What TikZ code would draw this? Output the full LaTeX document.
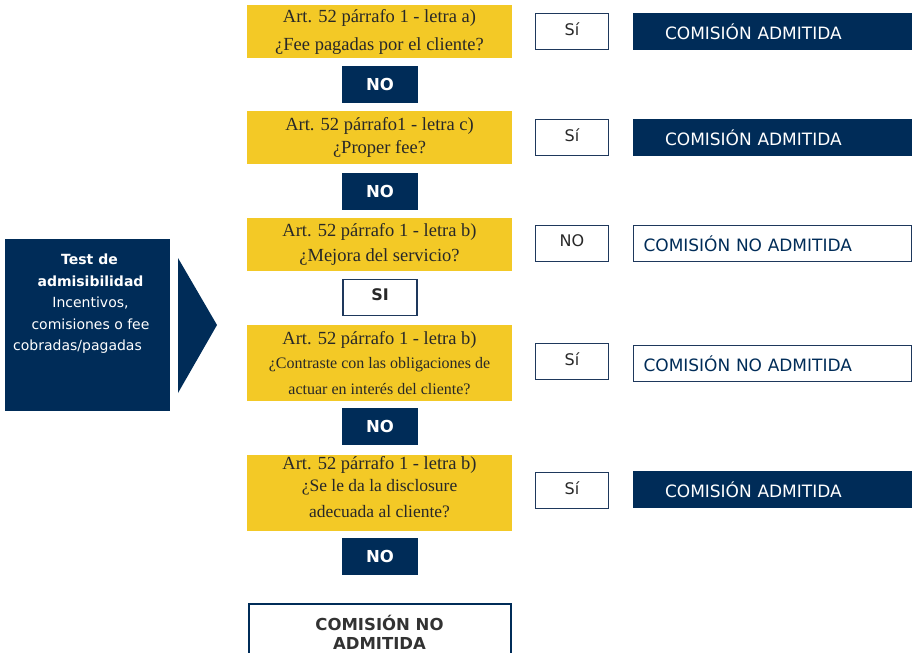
\documentclass[tikz,border=0pt]{standalone}
\usepackage{fontspec}
\setmainfont{Liberation Serif}
\setsansfont{DejaVu Sans}
\usetikzlibrary{positioning}
\definecolor{cnnavy}{RGB}{0,44,88}
\definecolor{cnline}{RGB}{30,56,92}
\definecolor{cnyellow}{RGB}{243,201,38}
\definecolor{cngray}{RGB}{40,40,40}
\definecolor{cndark}{RGB}{50,50,50}

\begin{document}
\begin{tikzpicture}[x=1pt,y=-1pt,
  question/.style={fill=cnyellow,minimum width=265pt,inner sep=0pt,align=center,
    text=cngray,font=\fontsize{18.5}{22}\selectfont},
  nobox/.style={fill=cnnavy,minimum width=76pt,minimum height=37pt,inner sep=0pt,
    text=white,font=\sffamily\bfseries\fontsize{16.5}{18}\selectfont},
  answer/.style={draw=cnline,line width=1.3pt,fill=white,minimum width=73pt,
    minimum height=36pt,inner sep=0pt,text depth=5pt,text=cngray,
    font=\sffamily\fontsize{16}{18}\selectfont},
  okresult/.style={fill=cnnavy,text=white,minimum height=37pt,inner ysep=0pt,
    inner xsep=32pt,text width=215pt,align=left,font=\sffamily\fontsize{17}{20}\selectfont},
  koresult/.style={draw=cnline,line width=1.3pt,text=cnnavy,minimum height=36pt,
    inner ysep=0pt,inner xsep=10pt,text width=258pt,align=left,
    font=\sffamily\fontsize{17}{20}\selectfont}
]
  \useasboundingbox (0,0) rectangle (913,653);
  % Left block and pointer
  \node[fill=cnnavy,text=white,inner sep=0pt,font=\sffamily\fontsize{14}{21.5}\selectfont]
    (test) at (87.5,325) {\parbox[c][172pt][t]{165pt}{\centering\vspace*{15pt}
      \hspace*{4pt}\textbf{Test de}\\ \hspace*{6pt}\textbf{admisibilidad}\\
      \hspace*{6pt}Incentivos,\\ \hspace*{6pt}comisiones o fee\\
      cobradas/pagadas\hspace*{20pt}}};
  \fill[cnnavy] (178,258) -- (217,325) -- (178,393) -- cycle;
  % Questions
  \node[question,minimum height=53pt] (q1) at (379.5,31.5)
    {Art. 52 párrafo 1 - letra a)\\[6pt] ¿Fee pagadas por el cliente?};
  \node[question,minimum height=53pt] (q2) at (379.5,137.5)
    {Art. 52 párrafo1 - letra c)\\[1pt] ¿Proper fee?};
  \node[question,minimum height=53pt] (q3) at (379.5,244.5)
    {Art. 52 párrafo 1 - letra b)\\[3pt] ¿Mejora del servicio?};
  \node[question,minimum height=76pt] (q4) at (379.5,363)
    {Art. 52 párrafo 1 - letra b)\\[2pt]
     \fontsize{16}{24}\selectfont ¿Contraste con las obligaciones de\\[4pt]
     \fontsize{16}{24}\selectfont actuar en interés del cliente?};
  \node[question,minimum height=76pt,text depth=13pt] (q5) at (379.5,493)
    {Art. 52 párrafo 1 - letra b)\\
     \fontsize{17.5}{22}\selectfont ¿Se le da la disclosure\\[4pt]
     \fontsize{17.5}{22}\selectfont adecuada al cliente?};
  % Vertical answers
  \foreach \i/\y in {1/84.5,2/191,4/426.5,5/556.5}
    \node[nobox] (no\i) at (380,\y) {NO};
  \node[answer,minimum width=74pt,font=\sffamily\bfseries\fontsize{16}{18}\selectfont]
    (si) at (380,297.5) {SI};
  % Side answers
  \node[answer] (a1) at (572,31.5) {Sí};
  \node[answer] (a2) at (572,137.5) {Sí};
  \node[answer] (a3) at (572,243.5) {NO};
  \node[answer] (a4) at (572,361.5) {Sí};
  \node[answer] (a5) at (572,490.5) {Sí};
  % Results
  \node[okresult] (r1) at (772.5,31.5) {COMISIÓN ADMITIDA};
  \node[okresult] (r2) at (772.5,137.5) {COMISIÓN ADMITIDA};
  \node[koresult] (r3) at (772.5,243.5) {COMISIÓN NO ADMITIDA};
  \node[koresult] (r4) at (772.5,363.5) {COMISIÓN NO ADMITIDA};
  \node[okresult] (r5) at (772.5,489.5) {COMISIÓN ADMITIDA};
  % Final verdict
  \node[draw=cnnavy,line width=2pt,minimum width=262pt,minimum height=56pt,inner sep=0pt,
    align=center,text=cndark,font=\sffamily\bfseries\fontsize{16.5}{19}\selectfont]
    (final) at (379.5,632) {COMISIÓN NO\\ ADMITIDA};
\end{tikzpicture}
\end{document}
